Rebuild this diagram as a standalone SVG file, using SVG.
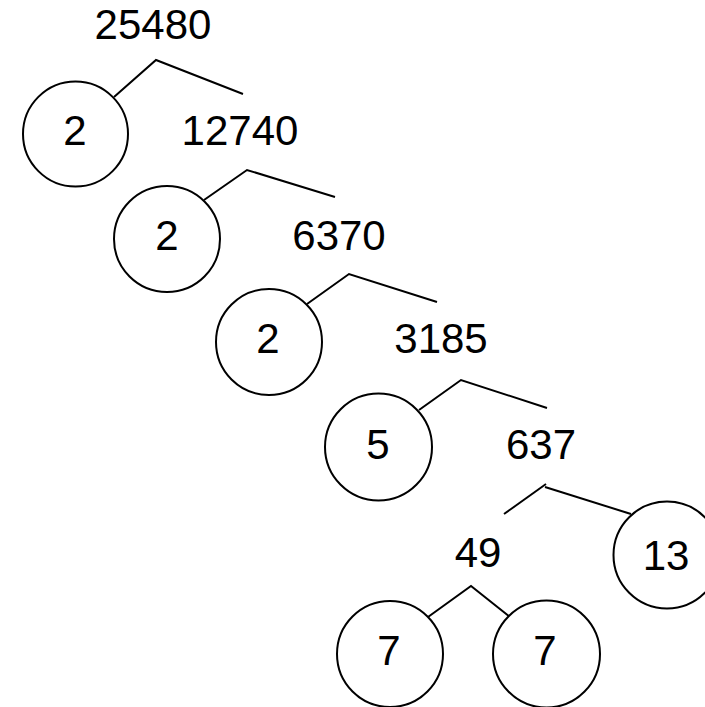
<svg xmlns="http://www.w3.org/2000/svg" width="705" height="707" viewBox="0 0 705 707">
<style>
.n{fill:#fff;stroke:#000;stroke-width:2}
.t{font-family:"Liberation Sans",Arial,sans-serif;font-size:42px;fill:#000;text-anchor:middle}
.c{fill:none;stroke:#000;stroke-width:2}
</style>
<rect width="705" height="707" fill="#fff"/>
<g id="connectors">
<polyline class="c" points="114,97 156,60 243,94"/>
<polyline class="c" points="204,200 247,170 335,197"/>
<polyline class="c" points="307,304 349,274 437,302"/>
<polyline class="c" points="419,410 461,380 547,408"/>
<polyline class="c" points="504,514 546,484"/>
<polyline class="c" points="545,487 631,514"/>
<polyline class="c" points="428,617 471,586 510,617"/>
</g>
<g id="n25480"><text class="t" x="153" y="39">25480</text></g>
<g id="n2a"><circle class="n" cx="75.5" cy="134" r="52.5"/><text class="t" x="75" y="145">2</text></g>
<g id="n12740"><text class="t" x="240" y="145">12740</text></g>
<g id="n2b"><circle class="n" cx="167" cy="239" r="53"/><text class="t" x="167" y="250">2</text></g>
<g id="n6370"><text class="t" x="339" y="250">6370</text></g>
<g id="n2c"><circle class="n" cx="269" cy="342" r="53"/><text class="t" x="268" y="353">2</text></g>
<g id="n3185"><text class="t" x="441" y="353">3185</text></g>
<g id="n5"><circle class="n" cx="378.5" cy="447" r="53.5"/><text class="t" x="378" y="459">5</text></g>
<g id="n637"><text class="t" x="541" y="459">637</text></g>
<g id="n49"><text class="t" x="478" y="567">49</text></g>
<g id="n13"><circle class="n" cx="667" cy="555" r="53.5"/><text class="t" x="666" y="570">13</text></g>
<g id="n7a"><circle class="n" cx="390" cy="654" r="53"/><text class="t" x="389" y="665">7</text></g>
<g id="n7b"><circle class="n" cx="546.5" cy="654" r="53.5"/><text class="t" x="545" y="665">7</text></g>
</svg>
